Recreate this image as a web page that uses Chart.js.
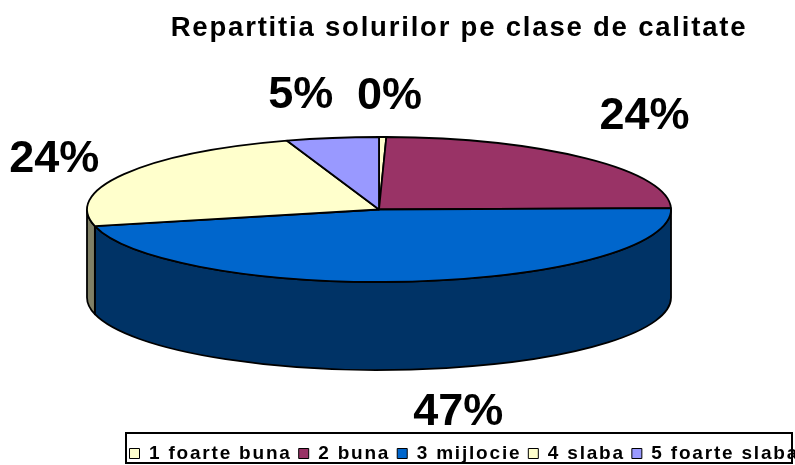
<!DOCTYPE html>
<html><head><meta charset="utf-8">
<script src="https://cdn.jsdelivr.net/npm/chart.js@4"></script>
<style>html,body{margin:0;padding:0;background:#fff}#wrap{width:795px;height:465px}</style>
</head><body><div id="wrap"><canvas id="c" width="795" height="465"></canvas></div>
<script>
const categories = ['1 foarte buna', '2 buna', '3 mijlocie', '4 slaba', '5 foarte slaba'];
const shares = [0.4, 24.3, 46.6, 23.6, 5.1];
const sliceColors = ['#FFFFCC', '#993366', '#0066CC', '#FFFFCC', '#9999FF'];
const titleText = 'Repartitia solurilor pe clase de calitate';

const FONT = '"Liberation Sans", Arial, sans-serif';
const PIE = { cx: 379, cy: 209.5, rx: 292, ry: 72.5, depth: 88 };
const TITLE = { x: 459, y: 28, font: 'bold 27.5px ' + FONT };
const LABEL_FONT = 'bold 45px ' + FONT;
const labelGap = 40;
const labelNudge = [[6, 17], [-2, -2], [32, -13], [4.5, 13], [-20, 14]];

function darker(hex) {
  const n = parseInt(hex.slice(1), 16);
  const r = (n >> 16) & 255, g = (n >> 8) & 255, b = n & 255;
  return 'rgb(' + Math.round(r / 2) + ',' + Math.round(g / 2) + ',' + Math.round(b / 2) + ')';
}

const pie3d = {
  id: 'pie3d',
  beforeUpdate(chart) { chart.ctx.letterSpacing = '1.8px'; },
  beforeDraw(chart) { chart.ctx.letterSpacing = '1.8px'; },
  beforeDatasetsDraw(chart) {
    const ctx = chart.ctx;
    const meta = chart.getDatasetMeta(0);
    const { cx, cy, rx, ry, depth } = PIE;
    ctx.save();
    ctx.letterSpacing = '0px';
    ctx.lineWidth = 1.8;
    ctx.strokeStyle = '#000';
    ctx.lineJoin = 'round';
    // side walls (front half only)
    meta.data.forEach((arc, i) => {
      const a0 = Math.max(arc.startAngle, 0), a1 = Math.min(arc.endAngle, Math.PI);
      if (a1 <= a0) return;
      ctx.beginPath();
      ctx.ellipse(cx, cy, rx, ry, 0, a0, a1, false);
      ctx.lineTo(cx + rx * Math.cos(a1), cy + depth + ry * Math.sin(a1));
      ctx.ellipse(cx, cy + depth, rx, ry, 0, a1, a0, true);
      ctx.closePath();
      ctx.fillStyle = darker(sliceColors[i]);
      ctx.fill();
      ctx.stroke();
    });
    // top faces
    meta.data.forEach((arc, i) => {
      ctx.beginPath();
      ctx.moveTo(cx, cy);
      ctx.ellipse(cx, cy, rx, ry, 0, arc.startAngle, arc.endAngle, false);
      ctx.closePath();
      ctx.fillStyle = sliceColors[i];
      ctx.fill();
      ctx.stroke();
    });
    // percentage labels
    const total = shares.reduce((a, b) => a + b, 0);
    ctx.font = LABEL_FONT;
    ctx.fillStyle = '#000';
    ctx.textAlign = 'center';
    ctx.textBaseline = 'middle';
    meta.data.forEach((arc, i) => {
      const mid = (arc.startAngle + arc.endAngle) / 2;
      const c = Math.cos(mid), s = Math.sin(mid);
      const txt = Math.round(shares[i] / total * 100) + '%';
      const W = ctx.measureText(txt).width, H = 34;
      const ax = cx + (rx + labelGap) * c;
      const ay = cy + (ry + labelGap) * s + (s > 0 ? depth : 0);
      const x = ax + c * W / 2 + labelNudge[i][0];
      const y = ay + s * H / 2 + labelNudge[i][1];
      ctx.fillText(txt, x, y);
    });
    ctx.restore();
    return false;
  },
  afterDraw(chart) {
    const ctx = chart.ctx;
    ctx.save();
    ctx.strokeStyle = '#000';
    ctx.lineWidth = 2;
    ctx.strokeRect(126, chart.height - 32, chart.width - 129, 30);
    // chart title
    ctx.letterSpacing = '1.8px';
    ctx.font = TITLE.font;
    ctx.fillStyle = '#000';
    ctx.textAlign = 'center';
    ctx.textBaseline = 'middle';
    ctx.fillText(titleText, TITLE.x, TITLE.y);
    ctx.restore();
  }
};

new Chart(document.getElementById('c'), {
  type: 'pie',
  data: {
    labels: categories,
    datasets: [{ data: shares, backgroundColor: sliceColors, borderColor: '#000', borderWidth: 1 }]
  },
  options: {
    responsive: false,
    animation: false,
    events: [],
    layout: { padding: { left: 122.5, right: -40, top: 50, bottom: -8 } },
    plugins: {
      title: { display: false },
      legend: {
        position: 'bottom',
        align: 'start',
        labels: { color: '#000', font: { family: FONT, size: 19, weight: 'bold' }, boxWidth: 10, boxHeight: 10, padding: 7 }
      },
      tooltip: { enabled: false }
    }
  },
  plugins: [pie3d]
});
</script>
</body></html>
